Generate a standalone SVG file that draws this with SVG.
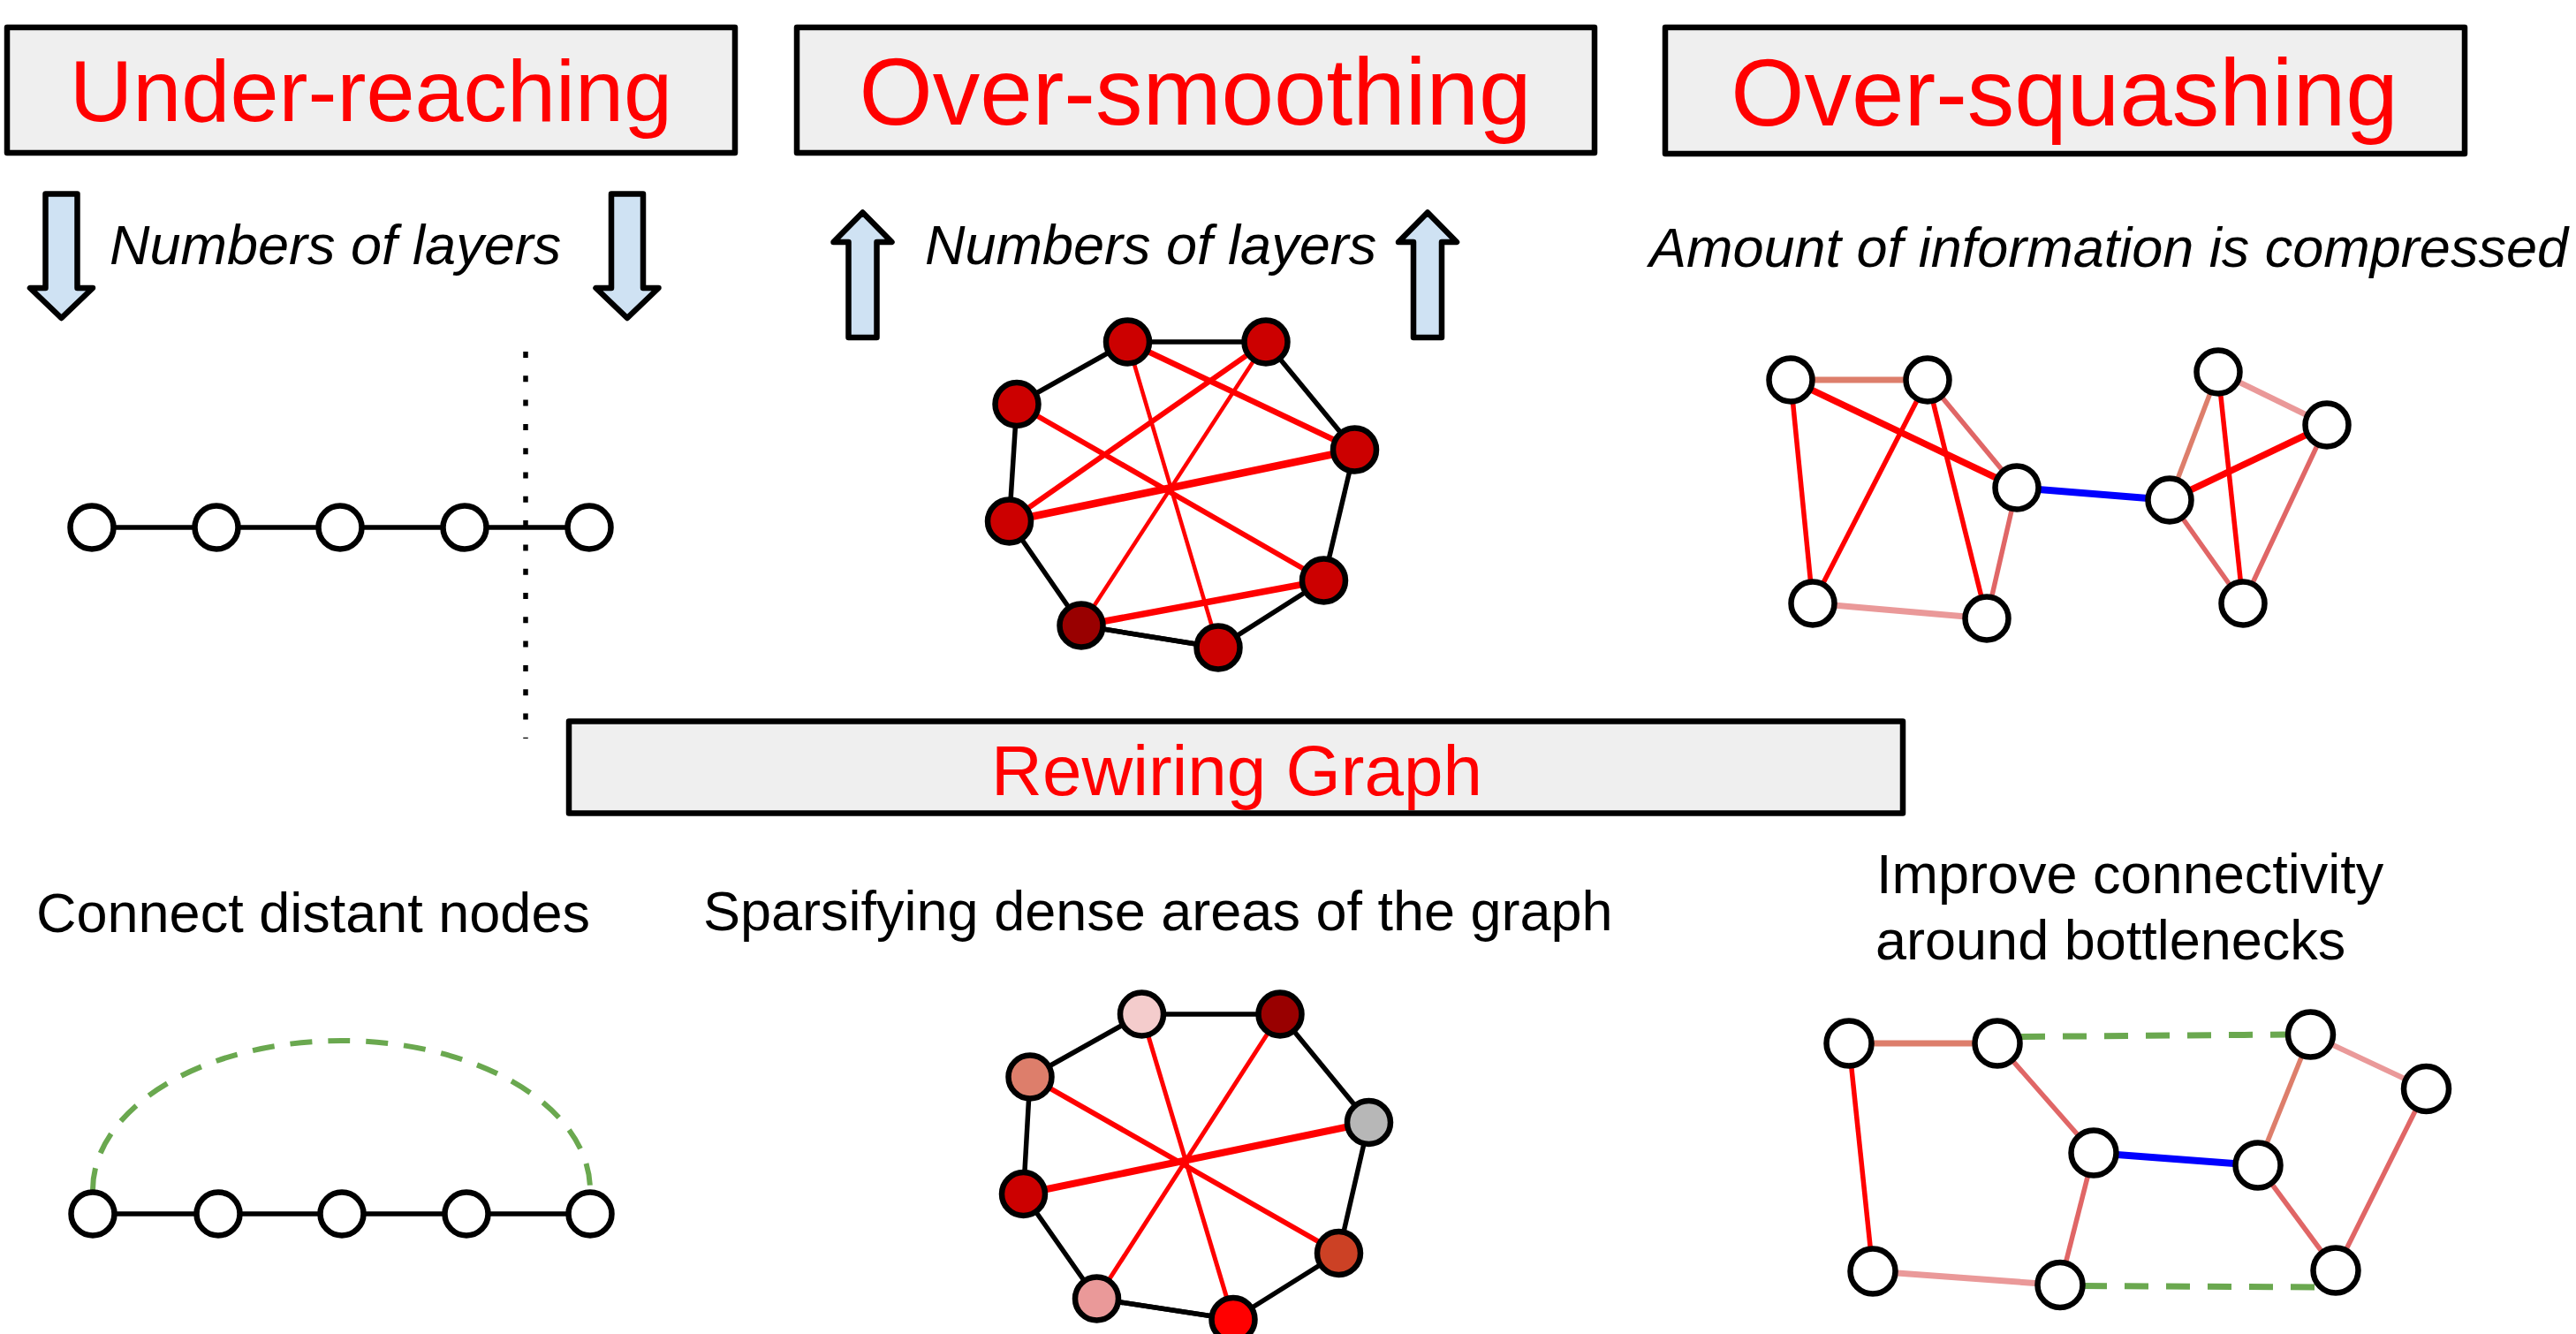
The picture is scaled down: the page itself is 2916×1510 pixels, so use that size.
<svg xmlns="http://www.w3.org/2000/svg" width="2916" height="1510" viewBox="0 0 2916 1510">
<style>
.box{fill:#efefef;stroke:#000;stroke-width:6.5;stroke-linejoin:round}
.title{font-family:"Liberation Sans",Arial,sans-serif;fill:#ff0000;text-anchor:middle}
.it{font-family:"Liberation Sans",Arial,sans-serif;font-style:italic;font-size:63px;fill:#000}
.txt{font-family:"Liberation Sans",Arial,sans-serif;font-size:63px;fill:#000}
.arr{fill:#cfe2f3;stroke:#000;stroke-width:6.5;stroke-linejoin:round}
.n{stroke:#000;stroke-width:6.5;fill:#fff}
.bk{stroke:#000;stroke-width:5.5;fill:none}
.rd{stroke:#ff0000;fill:none}
.sal{stroke:#dd7e6b;fill:none}
.pk{stroke:#e06666;fill:none}
.lp{stroke:#ea9999;fill:none}
.bl{stroke:#0000ff;fill:none}
.gd{stroke:#6aa84f;fill:none;stroke-dasharray:27 20}
</style>
<rect width="2916" height="1510" fill="#fff"/>

<g id="title-under-reaching">
<rect class="box" x="8" y="31" width="824" height="142"/>
<text class="title" x="420" y="137" font-size="99">Under-reaching</text>
</g>
<g id="title-over-smoothing">
<rect class="box" x="902" y="31" width="903" height="142"/>
<text class="title" x="1353" y="141" font-size="107">Over-smoothing</text>
</g>
<g id="title-over-squashing">
<rect class="box" x="1885" y="31" width="905" height="143"/>
<text class="title" x="2337" y="142" font-size="107">Over-squashing</text>
</g>
<g id="title-rewiring">
<rect class="box" x="644" y="816.5" width="1510" height="104"/>
<text class="title" x="1400" y="900" font-size="80">Rewiring Graph</text>
</g>

<g id="arrows">
<path class="arr" d="M51.5,219.5 H87.5 V326 H105 L69.5,360 L34,326 H51.5 Z"/>
<path class="arr" d="M692,219.5 H728 V326 H745.5 L710,360 L674.5,326 H692 Z"/>
<path class="arr" d="M976.5,240.5 L1009.5,274 H992.5 V382 H960.5 V274 H943.5 Z"/>
<path class="arr" d="M1616,240.5 L1649,274 H1632 V382 H1600 V274 H1583 Z"/>
</g>

<g id="labels">
<text class="it" x="124" y="299">Numbers of layers</text>
<text class="it" x="1047" y="299">Numbers of layers</text>
<text class="it" x="1867" y="302">Amount of information is compressed</text>
<text class="txt" x="41" y="1055">Connect distant nodes</text>
<text class="txt" x="796" y="1053">Sparsifying dense areas of the graph</text>
<text class="txt" x="2124" y="1011">Improve connectivity</text>
<text class="txt" x="2123" y="1086">around bottlenecks</text>
</g>

<g id="connectors">
<!-- under-reaching chain -->
<line class="bk" x1="104" y1="597" x2="667" y2="597" stroke-width="6"/>
<line x1="595" y1="398" x2="595" y2="836" stroke="#000" stroke-width="5.5" stroke-dasharray="7 20.3"/>
<!-- over-smoothing -->
<polyline class="bk" points="1276.5,387 1433,387 1533.5,509 1498.5,657 1379,733 1224,708 1142.5,590 1151,457.5 1276.5,387"/>
<line class="bk" x1="1379" y1="733" x2="1224" y2="708" stroke-width="7"/>
<line class="rd" stroke-width="6.5" x1="1276.5" y1="387" x2="1533.5" y2="509"/>
<line class="rd" stroke-width="4.5" x1="1276.5" y1="387" x2="1379" y2="733"/>
<line class="rd" stroke-width="6" x1="1433" y1="387" x2="1142.5" y2="590"/>
<line class="rd" stroke-width="4.5" x1="1433" y1="387" x2="1224" y2="708"/>
<line class="rd" stroke-width="6" x1="1151" y1="457.5" x2="1498.5" y2="657"/>
<line class="rd" stroke-width="8.5" x1="1142.5" y1="590" x2="1533.5" y2="509"/>
<line class="rd" stroke-width="7.5" x1="1224" y1="708" x2="1498.5" y2="657"/>
<!-- over-squashing -->
<line class="sal" stroke-width="7" x1="2027" y1="430" x2="2182" y2="430"/>
<line class="rd" stroke-width="7.5" x1="2027" y1="430" x2="2283" y2="552"/>
<line class="rd" stroke-width="5.5" x1="2027" y1="430" x2="2052" y2="683"/>
<line class="rd" stroke-width="5.5" x1="2182" y1="430" x2="2052" y2="683"/>
<line class="rd" stroke-width="5.5" x1="2182" y1="430" x2="2249" y2="700"/>
<line class="pk" stroke-width="5.5" x1="2182" y1="430" x2="2283" y2="552"/>
<line class="pk" stroke-width="5.5" x1="2283" y1="552" x2="2249" y2="700"/>
<line class="lp" stroke-width="7" x1="2052" y1="683" x2="2249" y2="700"/>
<line class="bl" stroke-width="8" x1="2283" y1="552" x2="2456" y2="566"/>
<line class="sal" stroke-width="5.5" x1="2456" y1="566" x2="2511" y2="421"/>
<line class="rd" stroke-width="7.5" x1="2456" y1="566" x2="2634" y2="481"/>
<line class="pk" stroke-width="5.5" x1="2456" y1="566" x2="2539" y2="683"/>
<line class="rd" stroke-width="5.5" x1="2511" y1="421" x2="2539" y2="683"/>
<line class="lp" stroke-width="6.5" x1="2511" y1="421" x2="2634" y2="481"/>
<line class="pk" stroke-width="5.5" x1="2634" y1="481" x2="2539" y2="683"/>
<!-- connect distant nodes -->
<line class="bk" x1="105" y1="1374" x2="668" y2="1374" stroke-width="6"/>
<path d="M105,1347 A281.5,169 0 0 1 668,1347" stroke="#6aa84f" stroke-width="6" fill="none" stroke-dasharray="25 18"/>
<!-- sparsifying -->
<polyline class="bk" points="1292.5,1148 1449,1148 1549.5,1270.5 1515.5,1418.5 1396,1493.5 1241.5,1470 1158.5,1351.5 1166,1219 1292.5,1148"/>
<line class="bk" x1="1396" y1="1493.5" x2="1241.5" y2="1470" stroke-width="7"/>
<line class="rd" stroke-width="5" x1="1292.5" y1="1148" x2="1396" y2="1493.5"/>
<line class="rd" stroke-width="5" x1="1449" y1="1148" x2="1241.5" y2="1470"/>
<line class="rd" stroke-width="6" x1="1166" y1="1219" x2="1515.5" y2="1418.5"/>
<line class="rd" stroke-width="8" x1="1158.5" y1="1351.5" x2="1549.5" y2="1270.5"/>
<!-- improve connectivity -->
<line class="sal" stroke-width="7" x1="2093" y1="1181" x2="2261" y2="1181"/>
<line class="rd" stroke-width="5.5" x1="2093" y1="1181" x2="2120" y2="1439"/>
<line class="lp" stroke-width="7" x1="2120" y1="1439" x2="2332" y2="1454.5"/>
<line class="pk" stroke-width="5.5" x1="2261" y1="1181" x2="2370" y2="1305"/>
<line class="pk" stroke-width="5.5" x1="2370" y1="1305" x2="2332" y2="1454.5"/>
<line class="bl" stroke-width="8" x1="2370" y1="1305" x2="2556" y2="1319"/>
<line class="sal" stroke-width="5.5" x1="2556" y1="1319" x2="2615.5" y2="1171"/>
<line class="lp" stroke-width="6" x1="2615.5" y1="1171" x2="2746.5" y2="1232.5"/>
<line class="pk" stroke-width="5.5" x1="2556" y1="1319" x2="2644" y2="1438"/>
<line class="pk" stroke-width="5.5" x1="2746.5" y1="1232.5" x2="2644" y2="1438"/>
<line class="gd" stroke-width="7" x1="2288" y1="1173.5" x2="2590" y2="1171"/>
<line class="gd" stroke-width="7" x1="2358" y1="1455.5" x2="2620" y2="1457"/>
</g>

<g id="nodes-under-reaching">
<circle id="u1" class="n" cx="104" cy="597" r="24.5"/>
<circle id="u2" class="n" cx="245" cy="597" r="24.5"/>
<circle id="u3" class="n" cx="385" cy="597" r="24.5"/>
<circle id="u4" class="n" cx="526" cy="597" r="24.5"/>
<circle id="u5" class="n" cx="667" cy="597" r="24.5"/>
</g>
<g id="nodes-over-smoothing">
<circle id="o1" class="n" cx="1276.5" cy="387" r="24.5" style="fill:#cc0000"/>
<circle id="o2" class="n" cx="1433" cy="387" r="24.5" style="fill:#cc0000"/>
<circle id="o3" class="n" cx="1151" cy="457.5" r="24.5" style="fill:#cc0000"/>
<circle id="o4" class="n" cx="1533.5" cy="509" r="24.5" style="fill:#cc0000"/>
<circle id="o5" class="n" cx="1142.5" cy="590" r="24.5" style="fill:#cc0000"/>
<circle id="o6" class="n" cx="1498.5" cy="657" r="24.5" style="fill:#cc0000"/>
<circle id="o7" class="n" cx="1224" cy="708" r="24.5" style="fill:#990000"/>
<circle id="o8" class="n" cx="1379" cy="733" r="24.5" style="fill:#cc0000"/>
</g>
<g id="nodes-over-squashing">
<circle id="q1" class="n" cx="2027" cy="430" r="24.5"/>
<circle id="q2" class="n" cx="2182" cy="430" r="24.5"/>
<circle id="q3" class="n" cx="2283" cy="552" r="24.5"/>
<circle id="q4" class="n" cx="2052" cy="683" r="24.5"/>
<circle id="q5" class="n" cx="2249" cy="700" r="24.5"/>
<circle id="q6" class="n" cx="2456" cy="566" r="24.5"/>
<circle id="q7" class="n" cx="2511" cy="421" r="24.5"/>
<circle id="q8" class="n" cx="2634" cy="481" r="24.5"/>
<circle id="q9" class="n" cx="2539" cy="683" r="24.5"/>
</g>
<g id="nodes-connect">
<circle id="c1" class="n" cx="105" cy="1374" r="24.5"/>
<circle id="c2" class="n" cx="247" cy="1374" r="24.5"/>
<circle id="c3" class="n" cx="387" cy="1374" r="24.5"/>
<circle id="c4" class="n" cx="528" cy="1374" r="24.5"/>
<circle id="c5" class="n" cx="668" cy="1374" r="24.5"/>
</g>
<g id="nodes-sparsify">
<circle id="s1" class="n" cx="1292.5" cy="1148" r="24.5" style="fill:#f4cccc"/>
<circle id="s2" class="n" cx="1449" cy="1148" r="24.5" style="fill:#990000"/>
<circle id="s3" class="n" cx="1166" cy="1219" r="24.5" style="fill:#dd7e6b"/>
<circle id="s4" class="n" cx="1549.5" cy="1270.5" r="24.5" style="fill:#b7b7b7"/>
<circle id="s5" class="n" cx="1158.5" cy="1351.5" r="24.5" style="fill:#cc0000"/>
<circle id="s6" class="n" cx="1515.5" cy="1418.5" r="24.5" style="fill:#cc4125"/>
<circle id="s7" class="n" cx="1241.5" cy="1470" r="24.5" style="fill:#ea9999"/>
<circle id="s8" class="n" cx="1396" cy="1493.5" r="24.5" style="fill:#ff0000"/>
</g>
<g id="nodes-improve">
<circle id="p1" class="n" cx="2093" cy="1181" r="25.5"/>
<circle id="p2" class="n" cx="2261" cy="1181" r="25.5"/>
<circle id="p3" class="n" cx="2615.5" cy="1171" r="25.5"/>
<circle id="p4" class="n" cx="2746.5" cy="1232.5" r="25.5"/>
<circle id="p5" class="n" cx="2370" cy="1305" r="25.5"/>
<circle id="p6" class="n" cx="2556" cy="1319" r="25.5"/>
<circle id="p7" class="n" cx="2120" cy="1439" r="25.5"/>
<circle id="p8" class="n" cx="2332" cy="1454.5" r="25.5"/>
<circle id="p9" class="n" cx="2644" cy="1438" r="25.5"/>
</g>
</svg>
